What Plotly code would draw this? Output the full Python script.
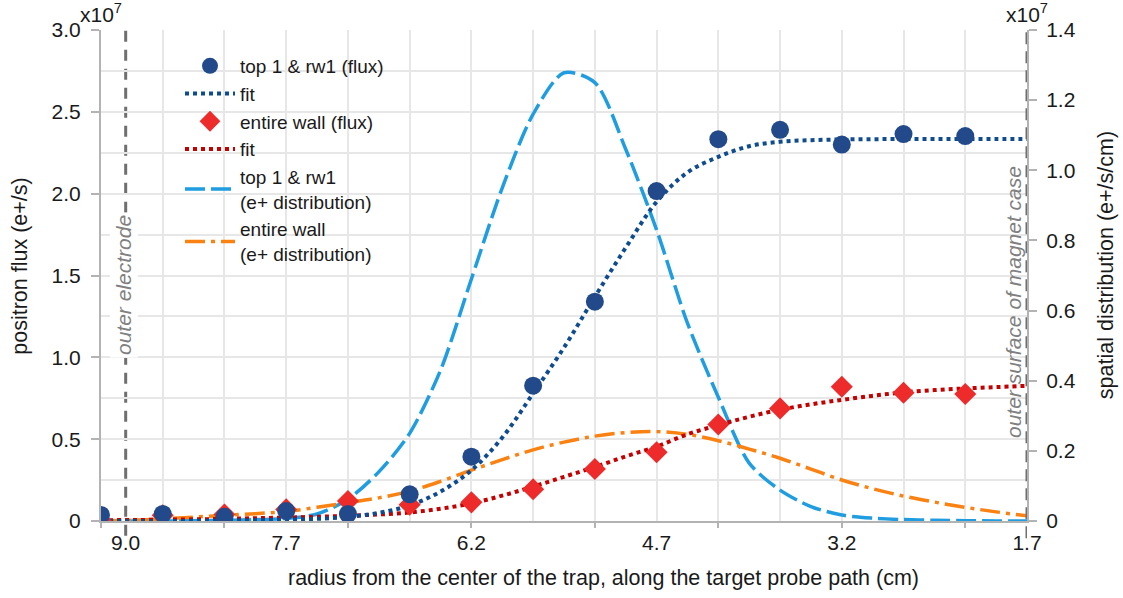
import plotly.graph_objects as go

# ---------------- data ----------------
# measurement radii (cm)
r_meas = [9.2, 8.7, 8.2, 7.7, 7.2, 6.7, 6.2, 5.7, 5.2, 4.7, 4.2, 3.7, 3.2, 2.7, 2.2]
# positron flux, units of 1e7 e+/s
flux_top1_rw1 = [0.037, 0.043, 0.026, 0.061, 0.043, 0.163, 0.393, 0.827, 1.34,
                 2.016, 2.333, 2.39, 2.30, 2.364, 2.352]
flux_entire_wall = [0.0, 0.035, 0.04, 0.071, 0.122, 0.10, 0.114, 0.194, 0.318,
                    0.42, 0.59, 0.688, 0.82, 0.784, 0.776]

# radii at which the fitted / derived curves were read (cm)
r_curve = [9.2, 8.95, 8.7, 8.45, 8.2, 7.95, 7.7, 7.45, 7.2, 6.95, 6.7, 6.45, 6.2,
           5.95, 5.7, 5.45, 5.2, 4.95, 4.7, 4.45, 4.2, 3.95, 3.7, 3.45, 3.2,
           2.95, 2.7, 2.45, 2.2, 1.95, 1.7]
fit_top1_rw1 = [0.0, 0.0, 0.0, 0.001, 0.002, 0.004, 0.007, 0.013, 0.025, 0.05,
                0.095, 0.18, 0.31, 0.51, 0.78, 1.06, 1.37, 1.67, 1.95, 2.13,
                2.225, 2.29, 2.317, 2.327, 2.331, 2.333, 2.334, 2.334, 2.334,
                2.334, 2.334]
fit_entire_wall = [0.005, 0.006, 0.008, 0.01, 0.013, 0.017, 0.021, 0.026, 0.032,
                   0.04, 0.052, 0.075, 0.108, 0.155, 0.21, 0.27, 0.33, 0.395,
                   0.455, 0.53, 0.586, 0.637, 0.68, 0.713, 0.74, 0.765, 0.786,
                   0.80, 0.81, 0.818, 0.826]
# spatial distribution, units of 1e7 e+/s/cm
dist_top1_rw1 = [0.0, 0.0, 0.0, 0.001, 0.002, 0.004, 0.007, 0.02, 0.062, 0.14,
                 0.25, 0.43, 0.69, 0.95, 1.16, 1.278, 1.25, 1.06, 0.83, 0.564,
                 0.353, 0.165, 0.088, 0.041, 0.017, 0.008, 0.004, 0.002, 0.001,
                 0.0, 0.0]
dist_entire_wall = [0.0, 0.002, 0.006, 0.011, 0.016, 0.021, 0.027, 0.039, 0.052,
                    0.066, 0.085, 0.113, 0.145, 0.175, 0.203, 0.225, 0.242, 0.252,
                    0.255, 0.247, 0.229, 0.205, 0.179, 0.148, 0.117, 0.092, 0.071,
                    0.054, 0.039, 0.026, 0.015]

x_range = [9.2, 1.7]
x_label_vals = [9.0, 7.7, 6.2, 4.7, 3.2, 1.7]
x_label_text = ["9.0", "7.7", "6.2", "4.7", "3.2", "1.7"]
x_tick_marks = [9.2, 8.2, 7.2, 6.2, 5.2, 4.2, 3.2, 2.2]
left_ticks = [0, 0.5, 1.0, 1.5, 2.0, 2.5, 3.0]
left_text = ["0", "0.5", "1.0", "1.5", "2.0", "2.5", "3.0"]
right_ticks = [0, 0.2, 0.4, 0.6, 0.8, 1.0, 1.2, 1.4]
right_text = ["0", "0.2", "0.4", "0.6", "0.8", "1.0", "1.2", "1.4"]
electrode_r = 9.0
magnet_r = 1.7

# ---------------- styles ----------------
FONT = "Liberation Sans, Arial, sans-serif"
C_TXT = "#1a1a1a"
C_AX = "#b3b3b3"
C_GRID = "#e7e7e7"
C_REF = "#6f6f6f"
C_CIRC = "#224a8a"
C_FITB = "#0f4c8f"
C_DIAM = "#ee2b2b"
C_FITR = "#c40000"
C_LB = "#1f9de0"
C_OR = "#fa8213"

fig = go.Figure()

fig.add_trace(go.Scatter(x=r_curve, y=dist_top1_rw1, yaxis="y", mode="lines",
                         line=dict(color=C_LB, width=3.5, dash="20px,6px", shape="spline",
                                   smoothing=0.8),
                         name="top 1 & rw1<br>(e+ distribution)", legendrank=5))
fig.add_trace(go.Scatter(x=r_curve, y=dist_entire_wall, yaxis="y", mode="lines",
                         line=dict(color=C_OR, width=3.5, dash="20px,6px,4px,6px", shape="spline"),
                         name="entire wall<br>(e+ distribution)", legendrank=6))
fig.add_trace(go.Scatter(x=r_curve, y=fit_entire_wall, yaxis="y2", mode="lines",
                         line=dict(color=C_FITR, width=4, dash="dot", shape="spline"),
                         name="fit", legendrank=4))
fig.add_trace(go.Scatter(x=r_curve, y=fit_top1_rw1, yaxis="y2", mode="lines",
                         line=dict(color=C_FITB, width=4, dash="dot", shape="spline"),
                         name="fit", legendrank=2))
fig.add_trace(go.Scatter(x=r_meas, y=flux_entire_wall, yaxis="y2", mode="markers",
                         marker=dict(symbol="diamond", size=17, color=C_DIAM),
                         name="entire wall (flux)", legendrank=3))
fig.add_trace(go.Scatter(x=r_meas, y=flux_top1_rw1, yaxis="y2", mode="markers",
                         marker=dict(symbol="circle", size=18, color=C_CIRC),
                         name="top 1 & rw1 (flux)", legendrank=1))
# carrier for the tick-mark axis
fig.add_trace(go.Scatter(x=[None], y=[None], xaxis="x2", yaxis="y", mode="markers",
                         showlegend=False, hoverinfo="skip"))

fig.add_shape(type="line", xref="x", yref="paper", x0=electrode_r, x1=electrode_r,
              y0=-0.03, y1=1.0, layer="between",
              line=dict(color=C_REF, width=3, dash="11px,8px"))
fig.add_shape(type="line", xref="x", yref="paper", x0=magnet_r, x1=magnet_r,
              y0=-0.035, y1=1.0, layer="above",
              line=dict(color=C_REF, width=3, dash="12px,7px"))

ann = []
ann.append(dict(x=electrode_r, y=0.48, xref="x", yref="paper", text="outer electrode",
                textangle=-90, showarrow=False, xshift=-2, bgcolor="white", borderpad=2,
                font=dict(family=FONT, size=21, color="#808080", style="italic")))
ann.append(dict(x=magnet_r, y=0.446, xref="x", yref="paper", text="outer surface of magnet case",
                textangle=-90, showarrow=False, xshift=-14,
                font=dict(family=FONT, size=21, color="#808080", style="italic")))
ann.append(dict(x=0.0, y=1.0, xref="paper", yref="paper", text="x10<sup>7</sup>",
                showarrow=False, xanchor="center", yanchor="bottom", yshift=2,
                font=dict(family=FONT, size=21, color=C_TXT)))
ann.append(dict(x=1.0, y=1.0, xref="paper", yref="paper", text="x10<sup>7</sup>",
                showarrow=False, xanchor="center", yanchor="bottom", yshift=2,
                font=dict(family=FONT, size=21, color=C_TXT)))
ann.append(dict(x=0.543, y=-0.116, xref="paper", yref="paper",
                text="radius from the center of the trap, along the target probe path (cm)",
                showarrow=False, xanchor="center", yanchor="middle",
                font=dict(family=FONT, size=21.5, color=C_TXT)))
ann.append(dict(x=-0.0869, y=0.519, xref="paper", yref="paper", text="positron flux (e+/s)",
                textangle=-90, showarrow=False, xanchor="center", yanchor="middle",
                font=dict(family=FONT, size=21.5, color=C_TXT)))
ann.append(dict(x=1.0853, y=0.521, xref="paper", yref="paper", text="spatial distribution (e+/s/cm)",
                textangle=-90, showarrow=False, xanchor="center", yanchor="middle",
                font=dict(family=FONT, size=21.5, color=C_TXT)))

fig.update_layout(
    width=1123, height=598,
    margin=dict(l=101, r=96, t=30, b=77),
    paper_bgcolor="white", plot_bgcolor="white",
    font=dict(family=FONT, size=21, color=C_TXT),
    showlegend=True,
    legend=dict(x=(180 - 101) / 926, y=(521 - 47) / 491, xanchor="left", yanchor="top",
                bgcolor="rgba(0,0,0,0)", traceorder="normal", itemwidth=50,
                font=dict(family=FONT, size=19, color=C_TXT), tracegroupgap=0),
    xaxis=dict(range=x_range, tickvals=x_label_vals, ticktext=x_label_text, ticks="",
               showgrid=False, zeroline=False, showline=True, linecolor=C_AX, linewidth=2,
               tickfont=dict(family=FONT, size=21, color=C_TXT), ticklabelstandoff=2,
               minor=dict(tick0=9.2, dtick=0.5, showgrid=True, gridcolor=C_GRID,
                          gridwidth=2, ticks="")),
    xaxis2=dict(range=x_range, overlaying="x", anchor="y", side="bottom",
                tickvals=x_tick_marks, ticks="outside", ticklen=6, tickwidth=2,
                tickcolor=C_AX, showticklabels=False, showgrid=False, zeroline=False,
                showline=False),
    yaxis=dict(range=[0, 1.4], side="right", tickvals=right_ticks, ticktext=right_text,
               ticks="outside", ticklen=8, tickwidth=2, tickcolor=C_AX, showgrid=False,
               zeroline=False, showline=True, linecolor=C_AX, linewidth=2,
               ticklabelstandoff=5,
               tickfont=dict(family=FONT, size=21, color=C_TXT)),
    yaxis2=dict(range=[0, 3.0], side="left", overlaying="y", tickvals=left_ticks,
                ticktext=left_text, ticks="outside", ticklen=8, tickwidth=2, tickcolor=C_AX,
                showgrid=True, gridcolor=C_GRID, gridwidth=2, zeroline=False,
                showline=True, linecolor=C_AX, linewidth=2, ticklabelstandoff=6,
                tickfont=dict(family=FONT, size=21, color=C_TXT),
                minor=dict(dtick=0.25, showgrid=True, gridcolor=C_GRID, gridwidth=2, ticks="")),
    annotations=ann,
)

fig.write_html("out.html")
